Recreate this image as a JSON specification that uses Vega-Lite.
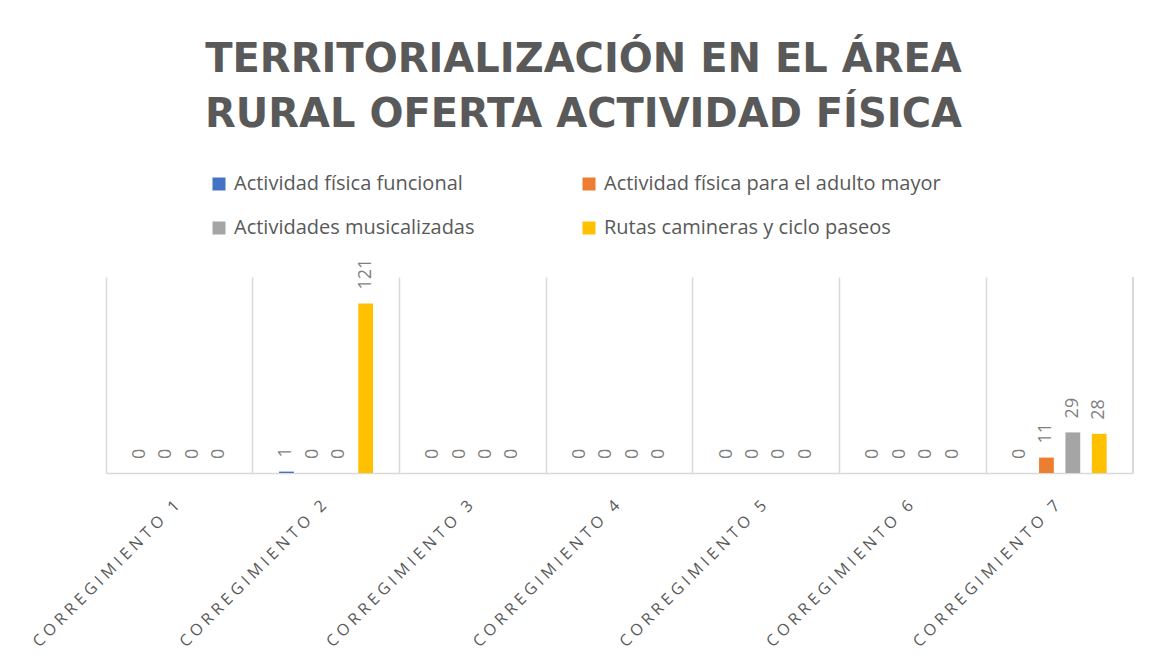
{
  "$schema": "https://vega.github.io/schema/vega-lite/v6.json",
  "width": 1027,
  "height": 196,
  "autosize": {"type": "none"},
  "padding": {"left": 106, "top": 277, "right": 20, "bottom": 198},
  "background": "white",
  "title": {
    "text": ["TERRITORIALIZACIÓN EN EL ÁREA", "RURAL OFERTA ACTIVIDAD FÍSICA"],
    "font": "DejaVu Sans",
    "fontSize": 40,
    "fontWeight": "bold",
    "color": "#595959",
    "anchor": "middle",
    "frame": "group",
    "dx": -36,
    "offset": 39,
    "lineHeight": 55
  },
  "config": {
    "view": {"stroke": null}
  },
  "data": {
    "values": [
      {"cat": "Corregimiento 1", "serie": "Actividad física funcional", "valor": 0},
      {"cat": "Corregimiento 1", "serie": "Actividad física para el adulto mayor", "valor": 0},
      {"cat": "Corregimiento 1", "serie": "Actividades musicalizadas", "valor": 0},
      {"cat": "Corregimiento 1", "serie": "Rutas camineras y ciclo paseos", "valor": 0},
      {"cat": "Corregimiento 2", "serie": "Actividad física funcional", "valor": 1},
      {"cat": "Corregimiento 2", "serie": "Actividad física para el adulto mayor", "valor": 0},
      {"cat": "Corregimiento 2", "serie": "Actividades musicalizadas", "valor": 0},
      {"cat": "Corregimiento 2", "serie": "Rutas camineras y ciclo paseos", "valor": 121},
      {"cat": "Corregimiento 3", "serie": "Actividad física funcional", "valor": 0},
      {"cat": "Corregimiento 3", "serie": "Actividad física para el adulto mayor", "valor": 0},
      {"cat": "Corregimiento 3", "serie": "Actividades musicalizadas", "valor": 0},
      {"cat": "Corregimiento 3", "serie": "Rutas camineras y ciclo paseos", "valor": 0},
      {"cat": "Corregimiento 4", "serie": "Actividad física funcional", "valor": 0},
      {"cat": "Corregimiento 4", "serie": "Actividad física para el adulto mayor", "valor": 0},
      {"cat": "Corregimiento 4", "serie": "Actividades musicalizadas", "valor": 0},
      {"cat": "Corregimiento 4", "serie": "Rutas camineras y ciclo paseos", "valor": 0},
      {"cat": "Corregimiento 5", "serie": "Actividad física funcional", "valor": 0},
      {"cat": "Corregimiento 5", "serie": "Actividad física para el adulto mayor", "valor": 0},
      {"cat": "Corregimiento 5", "serie": "Actividades musicalizadas", "valor": 0},
      {"cat": "Corregimiento 5", "serie": "Rutas camineras y ciclo paseos", "valor": 0},
      {"cat": "Corregimiento 6", "serie": "Actividad física funcional", "valor": 0},
      {"cat": "Corregimiento 6", "serie": "Actividad física para el adulto mayor", "valor": 0},
      {"cat": "Corregimiento 6", "serie": "Actividades musicalizadas", "valor": 0},
      {"cat": "Corregimiento 6", "serie": "Rutas camineras y ciclo paseos", "valor": 0},
      {"cat": "Corregimiento 7", "serie": "Actividad física funcional", "valor": 0},
      {"cat": "Corregimiento 7", "serie": "Actividad física para el adulto mayor", "valor": 11},
      {"cat": "Corregimiento 7", "serie": "Actividades musicalizadas", "valor": 29},
      {"cat": "Corregimiento 7", "serie": "Rutas camineras y ciclo paseos", "valor": 28}
    ]
  },
  "layer": [
    {
      "mark": {"type": "bar"},
      "encoding": {
        "x": {
          "field": "cat", "type": "nominal", "sort": null,
          "scale": {"paddingInner": 0, "paddingOuter": 0},
          "axis": {
            "title": null,
            "labelAngle": -45,
            "labelFont": "Open Sans",
            "labelFontSize": 16,
            "labelColor": "#595959",
            "labelPadding": 24,
            "labelOffset": -8,
            "labelLimit": 400,
            "labelExpr": "join(split(upper(datum.label), ''), '\u00a0')",
            "ticks": false,
            "domainColor": "#d9d9d9",
            "domainWidth": 1.5,
            "grid": true,
            "gridColor": "#d9d9d9",
            "gridWidth": 1.5,
            "bandPosition": 0
          }
        },
        "xOffset": {
          "field": "serie", "type": "nominal", "sort": null,
          "scale": {"paddingInner": 0.44, "paddingOuter": 1.155}
        },
        "y": {
          "field": "valor", "type": "quantitative",
          "scale": {"domain": [0, 140], "nice": false},
          "axis": null
        },
        "color": {
          "field": "serie", "type": "nominal", "sort": null,
          "scale": {
            "domain": ["Actividad física funcional", "Actividad física para el adulto mayor", "Actividades musicalizadas", "Rutas camineras y ciclo paseos"],
            "range": ["#4472C4", "#ED7D31", "#A5A5A5", "#FFC000"]
          },
          "legend": {
            "title": null,
            "orient": "none",
            "direction": "horizontal",
            "legendX": 103,
            "legendY": -103,
            "columns": 2,
            "columnPadding": 104,
            "rowPadding": 24,
            "symbolType": "square",
            "symbolSize": 169,
            "symbolStrokeWidth": 0,
            "labelFont": "Open Sans",
            "labelFontSize": 20,
            "labelColor": "#595959",
            "labelOffset": 5,
            "labelLimit": 500
          }
        }
      }
    },
    {
      "mark": {"type": "text", "angle": 270, "align": "left", "baseline": "middle", "dx": 14, "font": "Open Sans", "fontSize": 18, "color": "#7f7f7f"},
      "encoding": {
        "x": {"field": "cat", "type": "nominal", "sort": null},
        "xOffset": {"field": "serie", "type": "nominal", "sort": null},
        "y": {"field": "valor", "type": "quantitative"},
        "text": {"field": "valor", "type": "quantitative"}
      }
    },
    {
      "mark": {"type": "rule", "color": "#d9d9d9", "strokeWidth": 1.5},
      "encoding": {
        "x": {"datum": "Corregimiento 7", "bandPosition": 1}
      }
    }
  ]
}
